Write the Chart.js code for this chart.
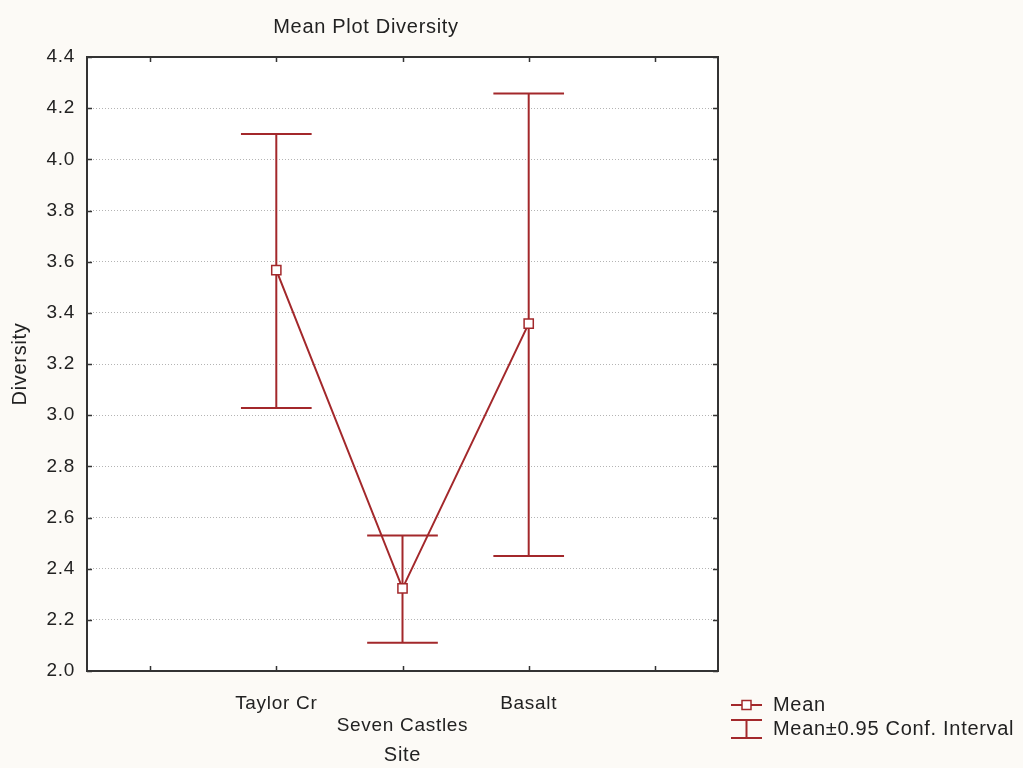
<!DOCTYPE html>
<html>
<head>
<meta charset="utf-8">
<script src="https://cdn.jsdelivr.net/npm/chart.js@4/dist/chart.umd.min.js"></script>
<style>
  html, body { margin: 0; padding: 0; background: #fcfaf6; }
  #wrap { width: 1023px; height: 768px; position: relative; }
</style>
</head>
<body>
<div id="wrap"><canvas id="chart"></canvas></div>
<script>
// data
const sites = ['Taylor Cr', 'Seven Castles', 'Basalt'];
const sitePos = [1, 2, 3];
const means = [3.567, 2.323, 3.358];
const ciLow = [3.028, 2.110, 2.450];
const ciHigh = [4.099, 2.530, 4.257];
const xTicks = [0, 1, 2, 3, 4];

const RED = '#a3282b';
const INK = '#222222';
const FONT = 'Liberation Sans, Arial, sans-serif';
const SPACING = '0.7px';
const CAP = 0.28; // half width of the error bar caps, in x units

// error bars as one broken line: cap, stem, cap for each site
const ciPoints = [];
sitePos.forEach((x, i) => {
    ciPoints.push({ x: x - CAP, y: ciHigh[i] }, { x: x + CAP, y: ciHigh[i] }, { x: x, y: null });
    ciPoints.push({ x: x, y: ciHigh[i] }, { x: x, y: ciLow[i] }, { x: x, y: null });
    ciPoints.push({ x: x - CAP, y: ciLow[i] }, { x: x + CAP, y: ciLow[i] }, { x: x, y: null });
});

const frame = {
    id: 'frame',
    beforeDraw(chart) {
        const { ctx, chartArea: a } = chart;
        ctx.letterSpacing = SPACING;
        ctx.save();
        ctx.fillStyle = '#ffffff';
        ctx.fillRect(a.left, a.top, a.right - a.left, a.bottom - a.top);
        ctx.restore();
    },
    afterDraw(chart) {
        const { ctx, chartArea: a, scales } = chart;
        ctx.save();
        ctx.letterSpacing = SPACING;
        ctx.strokeStyle = '#333333';
        ctx.lineWidth = 1.5;
        ctx.beginPath();
        xTicks.forEach(v => {
            const px = Math.round(scales.x.getPixelForValue(v)) + 0.5;
            ctx.moveTo(px, a.bottom); ctx.lineTo(px, a.bottom - 5);
            ctx.moveTo(px, a.top); ctx.lineTo(px, a.top + 5);
        });
        scales.y.ticks.forEach(t => {
            const py = Math.round(scales.y.getPixelForValue(t.value)) + 0.5;
            ctx.moveTo(a.left, py); ctx.lineTo(a.left + 5, py);
            ctx.moveTo(a.right, py); ctx.lineTo(a.right - 5, py);
        });
        ctx.stroke();
        ctx.lineWidth = 2;
        ctx.strokeRect(a.left, a.top, a.right - a.left, a.bottom - a.top);

        // titles
        ctx.fillStyle = INK;
        ctx.font = '20px ' + FONT;
        ctx.textAlign = 'center';
        ctx.textBaseline = 'middle';
        ctx.fillText('Mean Plot Diversity', 366, 27);
        ctx.fillText('Site', (a.left + a.right) / 2, 755);
        ctx.save();
        ctx.translate(20, (a.top + a.bottom) / 2);
        ctx.rotate(-Math.PI / 2);
        ctx.fillText('Diversity', 0, 0);
        ctx.restore();

        // legend
        ctx.strokeStyle = RED;
        ctx.lineWidth = 2;
        ctx.beginPath();
        ctx.moveTo(731, 705); ctx.lineTo(762, 705);
        ctx.moveTo(731, 720); ctx.lineTo(762, 720);
        ctx.moveTo(746.5, 720); ctx.lineTo(746.5, 738);
        ctx.moveTo(731, 738); ctx.lineTo(762, 738);
        ctx.stroke();
        ctx.lineWidth = 1.5;
        ctx.fillStyle = '#ffffff';
        ctx.fillRect(742, 700.5, 9, 9);
        ctx.strokeRect(742, 700.5, 9, 9);
        ctx.fillStyle = INK;
        ctx.textAlign = 'left';
        ctx.fillText('Mean', 773, 705);
        ctx.fillText('Mean\u00b10.95 Conf. Interval', 773, 729);
        ctx.restore();
    }
};

new Chart(document.getElementById('chart'), {
    type: 'line',
    data: {
        datasets: [{
            label: 'Mean',
            data: sitePos.map((x, i) => ({ x: x, y: means[i] })),
            borderColor: RED,
            borderWidth: 2,
            pointStyle: 'rect',
            pointRadius: 6.5,
            pointBorderWidth: 1.5,
            pointBackgroundColor: '#ffffff',
            pointBorderColor: RED,
            tension: 0,
            order: 0
        }, {
            label: 'Mean\u00b10.95 Conf. Interval',
            data: ciPoints,
            borderColor: RED,
            borderWidth: 2,
            pointRadius: 0,
            spanGaps: false,
            tension: 0,
            order: 1
        }]
    },
    options: {
        responsive: true,
        maintainAspectRatio: false,
        animation: false,
        layout: { padding: { top: 57, right: 305, left: 0, bottom: 0 } },
        plugins: {
            legend: { display: false },
            tooltip: { enabled: false }
        },
        scales: {
            x: {
                type: 'linear',
                min: -0.5,
                max: 4.5,
                afterBuildTicks: s => { s.ticks = xTicks.map(v => ({ value: v })); },
                afterFit: s => { s.height = 97; },
                grid: { display: false },
                border: { display: false },
                ticks: {
                    autoSkip: false,
                    maxRotation: 0,
                    padding: 13,
                    color: INK,
                    font: { family: FONT, size: 19 },
                    callback: v => {
                        const i = sitePos.indexOf(v);
                        if (i < 0) return '';
                        return i % 2 === 1 ? ['', sites[i]] : sites[i];
                    }
                }
            },
            y: {
                min: 2.0,
                max: 4.4,
                afterFit: s => { s.width = 87; },
                grid: { color: '#b4b4b4', lineWidth: 1, drawTicks: false },
                border: { display: false, dash: [1, 2] },
                ticks: {
                    stepSize: 0.2,
                    padding: 12,
                    color: INK,
                    font: { family: FONT, size: 19 },
                    callback: v => v.toFixed(1)
                }
            }
        }
    },
    plugins: [frame]
});
</script>
</body>
</html>
